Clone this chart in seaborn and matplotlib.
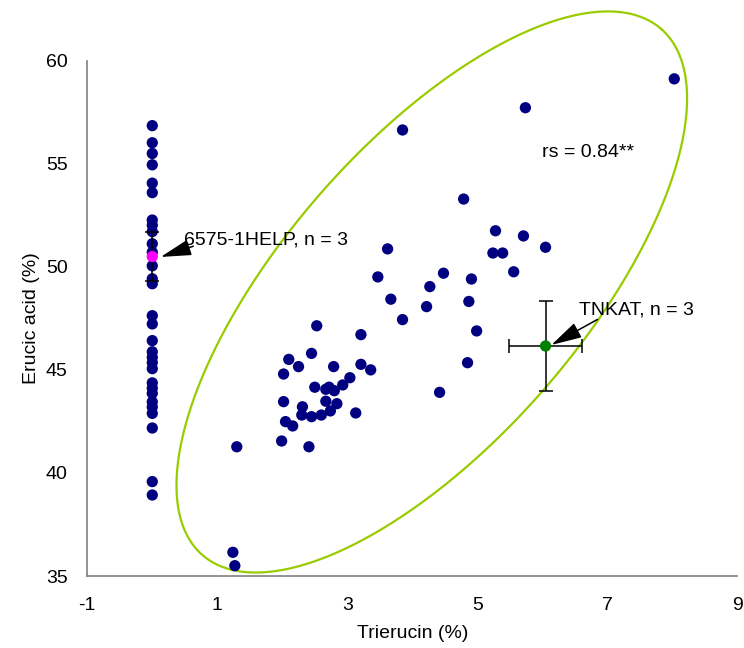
import numpy as np
import pandas as pd
import matplotlib
matplotlib.use("Agg")
import matplotlib.pyplot as plt
import seaborn as sns

# ---------------- data ----------------
# accessions with no trierucin (x = 0)
col0_erucic = [56.85, 56.02, 55.5, 54.95, 54.06, 53.6, 52.27, 52.02, 51.71, 51.12,
               50.71, 50.05, 49.42, 49.18, 47.63, 47.23, 46.42, 45.88, 45.61, 45.35,
               45.06, 44.37, 44.11, 43.86, 43.45, 43.2, 42.89, 42.18, 39.58, 38.93]

trierucin = [1.24, 1.27, 1.30, 1.99, 2.41, 2.05, 2.16, 2.02, 2.10, 2.02,
             2.25, 2.45, 2.53, 2.50, 2.67, 2.72, 2.80, 2.93, 3.04, 2.79,
             3.21, 3.36, 3.21, 2.67, 2.84, 2.31, 2.30, 2.45, 2.60, 2.74,
             3.13, 4.42, 4.85, 4.99, 3.85, 4.22, 3.67, 4.87, 3.62, 3.47,
             4.48, 4.91, 4.27, 5.56, 5.24, 5.39, 6.05, 5.71, 5.28, 4.79,
             3.85, 5.74, 8.03]
erucic = [36.15, 35.50, 41.27, 41.55, 41.27, 42.49, 42.28, 43.46, 45.51, 44.80,
          45.16, 45.80, 47.14, 44.16, 44.06, 44.16, 43.99, 44.27, 44.62, 45.16,
          45.27, 45.00, 46.71, 43.48, 43.36, 43.21, 42.81, 42.73, 42.81, 43.01,
          42.91, 43.91, 45.35, 46.89, 47.44, 48.07, 48.43, 48.32, 50.87, 49.51,
          49.69, 49.41, 49.04, 49.76, 50.67, 50.67, 50.95, 51.50, 51.75, 53.29,
          56.64, 57.72, 59.12]

# highlighted accessions (mean +- error)
help_x, help_y, help_yerr = 0.0, 50.5, 1.2
tnkat_x, tnkat_y, tnkat_xerr, tnkat_yerr = 6.05, 46.16, 0.56, 2.2

# ellipse (centre in data units, semi-axes in pixels of the original chart)
ell_cx, ell_cy = 4.30, 48.78
ell_a_px, ell_b_px, ell_angle = 349.0, 148.6, 48.9
px_per_x, px_per_y = 65.0, 20.61

x_ticks = [-1, 1, 3, 5, 7, 9]
y_ticks = [35, 40, 45, 50, 55, 60]

# ---------------- plot ----------------
sns.set_theme(style="white")
plt.rcParams["font.family"] = ["Liberation Sans", "DejaVu Sans"]
plt.rcParams["font.size"] = 14
plt.rcParams["text.color"] = "black"
plt.rcParams["axes.labelcolor"] = "black"

fig = plt.figure(figsize=(7.44, 6.48), dpi=100)
ax = fig.add_axes([0.1173, 0.1111, 0.8737, 0.7952])

df = pd.DataFrame({
    "Trierucin": [0.0] * len(col0_erucic) + trierucin,
    "Erucic": col0_erucic + erucic,
})
sns.scatterplot(data=df, x="Trierucin", y="Erucic", ax=ax, color="#000080",
                s=66, edgecolor="none", linewidth=0, zorder=3, legend=False)

# ellipse
t = np.linspace(0, 2 * np.pi, 400)
th = np.deg2rad(ell_angle)
dx = ell_a_px * np.cos(t) * np.cos(th) - ell_b_px * np.sin(t) * np.sin(th)
dy = ell_a_px * np.cos(t) * np.sin(th) + ell_b_px * np.sin(t) * np.cos(th)
ax.plot(ell_cx + dx / px_per_x, ell_cy + dy / px_per_y, color="#99CC00",
        lw=1.6, clip_on=False, zorder=2)

# highlighted points with error bars
ax.errorbar([help_x], [help_y], yerr=[help_yerr], fmt="none", ecolor="black",
            elinewidth=1.1, capsize=4.7, capthick=1.1, zorder=4)
ax.scatter([help_x], [help_y], s=66, color="#FF00FF", edgecolor="none", zorder=5)
ax.errorbar([tnkat_x], [tnkat_y], xerr=[tnkat_xerr], yerr=[tnkat_yerr], fmt="none",
            ecolor="black", elinewidth=1.1, capsize=4.7, capthick=1.1, zorder=4)
ax.scatter([tnkat_x], [tnkat_y], s=66, color="#008000", edgecolor="none", zorder=5)

# annotations
arrow = dict(arrowstyle="-|>,head_length=0.95,head_width=0.25", color="black",
             lw=1.1, shrinkA=0, shrinkB=0, mutation_scale=20)
ax.annotate("", xy=(0.13, 50.48), xytext=(0.63, 51.0), arrowprops=arrow, zorder=6)
ax.text(0.49, 51.3, "6575-1HELP, n = 3", ha="left", va="center", fontsize=14,
        color="black", zorder=6)
ax.annotate("", xy=(6.14, 46.21), xytext=(6.85, 47.45), arrowprops=arrow, zorder=6)
ax.text(6.57, 47.91, "TNKAT, n = 3", ha="left", va="center", fontsize=14,
        color="black", zorder=6)
ax.text(5.99, 55.54, "rs = 0.84**", ha="left", va="center", fontsize=14, color="black")

# axes styling
ax.set_xlim(-1, 9)
ax.set_ylim(35, 60)
ax.set_xticks(x_ticks)
ax.set_yticks(y_ticks)
ax.set_xticklabels([str(v) for v in x_ticks])
ax.set_yticklabels([str(v) for v in y_ticks])
for side in ["top", "right"]:
    ax.spines[side].set_visible(False)
for side in ["left", "bottom"]:
    ax.spines[side].set_color("#808080")
    ax.spines[side].set_linewidth(1.2)
ax.tick_params(axis="both", direction="out", color="#808080", width=1.0,
               labelsize=14, labelcolor="black")
ax.tick_params(axis="y", length=6, pad=8)
ax.tick_params(axis="x", length=5, pad=10)
ax.set_xlabel("Trierucin (%)", fontsize=14, color="black")
ax.set_ylabel("Erucic acid (%)", fontsize=14, color="black")
ax.xaxis.set_label_coords(0.5, -0.095)
ax.yaxis.set_label_coords(-0.073, 0.5)

fig.savefig("out.png", dpi=100)
